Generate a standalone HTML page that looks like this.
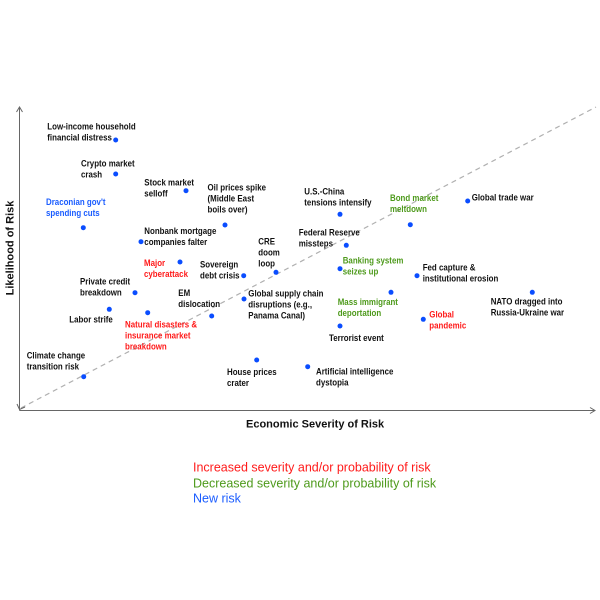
<!DOCTYPE html>
<html><head><meta charset="utf-8"><style>
html,body{margin:0;padding:0;background:#fff;}
svg{display:block;}
.l{font-family:"Liberation Sans",Arial,sans-serif;font-weight:bold;font-size:9px;fill:#111;}
.r{fill:#ff1a1a;}
.g{fill:#4e9a1c;}
.b{fill:#1a5cff;}
.d{fill:#0a4dff;}
</style></head><body>
<svg width="600" height="600" viewBox="0 0 600 600" xmlns="http://www.w3.org/2000/svg">
<rect width="600" height="600" fill="#fff"/>
<!-- diagonal -->
<line x1="21" y1="408" x2="596" y2="107" stroke="#b0b0b0" stroke-width="1.2" stroke-dasharray="5,4"/>
<!-- axes -->
<line x1="19.5" y1="107" x2="19.5" y2="410.5" stroke="#666" stroke-width="1"/>
<line x1="19.5" y1="410.5" x2="595" y2="410.5" stroke="#666" stroke-width="1"/>
<polyline points="16.5,112 19.5,107 22.5,112" fill="none" stroke="#666" stroke-width="1"/>
<polyline points="590,407.5 595,410.5 590,413.5" fill="none" stroke="#666" stroke-width="1"/>
<polyline points="17,404 19.5,409.5 25,407" fill="none" stroke="#666" stroke-width="1"/>
<!-- axis labels -->
<text x="246" y="427.3" font-family="Liberation Sans, Arial, sans-serif" font-weight="bold" font-size="11" fill="#111">Economic Severity of Risk</text>
<text transform="translate(13.5,248) rotate(-90)" text-anchor="middle" font-family="Liberation Sans, Arial, sans-serif" font-weight="bold" font-size="11" fill="#111">Likelihood of Risk</text>
<!-- dots -->
<g class="d">
<circle cx="115.7" cy="140" r="2.5"/>
<circle cx="115.7" cy="174" r="2.5"/>
<circle cx="186" cy="190.7" r="2.5"/>
<circle cx="225" cy="225" r="2.5"/>
<circle cx="83.3" cy="227.7" r="2.5"/>
<circle cx="141" cy="241.7" r="2.5"/>
<circle cx="340" cy="214.3" r="2.5"/>
<circle cx="410.3" cy="224.7" r="2.5"/>
<circle cx="467.7" cy="201" r="2.5"/>
<circle cx="346.3" cy="245.3" r="2.5"/>
<circle cx="276" cy="272.3" r="2.5"/>
<circle cx="243.7" cy="275.7" r="2.5"/>
<circle cx="340" cy="268.7" r="2.5"/>
<circle cx="417" cy="275.7" r="2.5"/>
<circle cx="180" cy="262" r="2.5"/>
<circle cx="135" cy="292.7" r="2.5"/>
<circle cx="211.7" cy="316" r="2.5"/>
<circle cx="244" cy="299" r="2.5"/>
<circle cx="109.3" cy="309.3" r="2.5"/>
<circle cx="147.7" cy="312.7" r="2.5"/>
<circle cx="83.7" cy="376.7" r="2.5"/>
<circle cx="256.7" cy="360" r="2.5"/>
<circle cx="391" cy="292.3" r="2.5"/>
<circle cx="423.3" cy="319.3" r="2.5"/>
<circle cx="532.3" cy="292.3" r="2.5"/>
<circle cx="340" cy="326" r="2.5"/>
<circle cx="307.7" cy="366.7" r="2.5"/>
</g>
<!-- labels -->
<text class="l" transform="translate(47.3,129.3) scale(.88 1)"><tspan x="0" y="0">Low-income household</tspan><tspan x="0" y="11">financial distress</tspan></text>
<text class="l" transform="translate(81,166.3) scale(.88 1)"><tspan x="0" y="0">Crypto market</tspan><tspan x="0" y="11">crash</tspan></text>
<text class="l" transform="translate(144.3,185.3) scale(.88 1)"><tspan x="0" y="0">Stock market</tspan><tspan x="0" y="11">selloff</tspan></text>
<text class="l" transform="translate(207.5,190.5) scale(.88 1)"><tspan x="0" y="0">Oil prices spike</tspan><tspan x="0" y="11">(Middle East</tspan><tspan x="0" y="22">boils over)</tspan></text>
<text class="l b" transform="translate(46,205) scale(.88 1)"><tspan x="0" y="0">Draconian gov't</tspan><tspan x="0" y="11">spending cuts</tspan></text>
<text class="l" transform="translate(304.3,194.3) scale(.88 1)"><tspan x="0" y="0">U.S.-China</tspan><tspan x="0" y="11">tensions intensify</tspan></text>
<text class="l g" transform="translate(390,201) scale(.88 1)"><tspan x="0" y="0">Bond market</tspan><tspan x="0" y="11">meltdown</tspan></text>
<text class="l" transform="translate(471.7,200.5) scale(.88 1)"><tspan x="0" y="0">Global trade war</tspan></text>
<text class="l" transform="translate(144.3,234) scale(.88 1)"><tspan x="0" y="0">Nonbank mortgage</tspan><tspan x="0" y="11">companies falter</tspan></text>
<text class="l" transform="translate(298.7,235.3) scale(.88 1)"><tspan x="0" y="0">Federal Reserve</tspan><tspan x="0" y="11">missteps</tspan></text>
<text class="l" transform="translate(258.3,244.7) scale(.88 1)"><tspan x="0" y="0">CRE</tspan><tspan x="0" y="11">doom</tspan><tspan x="0" y="22">loop</tspan></text>
<text class="l g" transform="translate(342.7,263.3) scale(.88 1)"><tspan x="0" y="0">Banking system</tspan><tspan x="0" y="11">seizes up</tspan></text>
<text class="l r" transform="translate(144,266) scale(.88 1)"><tspan x="0" y="0">Major</tspan><tspan x="0" y="11">cyberattack</tspan></text>
<text class="l" transform="translate(200,267.3) scale(.88 1)"><tspan x="0" y="0">Sovereign</tspan><tspan x="0" y="11">debt crisis</tspan></text>
<text class="l" transform="translate(422.7,270.6) scale(.88 1)"><tspan x="0" y="0">Fed capture &amp;</tspan><tspan x="0" y="11">institutional erosion</tspan></text>
<text class="l" transform="translate(80,284.3) scale(.88 1)"><tspan x="0" y="0">Private credit</tspan><tspan x="0" y="11">breakdown</tspan></text>
<text class="l" transform="translate(178.3,296) scale(.88 1)"><tspan x="0" y="0">EM</tspan><tspan x="0" y="11">dislocation</tspan></text>
<text class="l" transform="translate(248.3,296.6) scale(.88 1)"><tspan x="0" y="0">Global supply chain</tspan><tspan x="0" y="11">disruptions (e.g.,</tspan><tspan x="0" y="22">Panama Canal)</tspan></text>
<text class="l g" transform="translate(337.7,305) scale(.88 1)"><tspan x="0" y="0">Mass immigrant</tspan><tspan x="0" y="11">deportation</tspan></text>
<text class="l" transform="translate(490.7,304.6) scale(.88 1)"><tspan x="0" y="0">NATO dragged into</tspan><tspan x="0" y="11">Russia-Ukraine war</tspan></text>
<text class="l r" transform="translate(429.3,317.3) scale(.88 1)"><tspan x="0" y="0">Global</tspan><tspan x="0" y="11">pandemic</tspan></text>
<text class="l" transform="translate(69.3,322.3) scale(.88 1)"><tspan x="0" y="0">Labor strife</tspan></text>
<text class="l r" transform="translate(125,327.3) scale(.88 1)"><tspan x="0" y="0">Natural disasters &amp;</tspan><tspan x="0" y="11">insurance market</tspan><tspan x="0" y="22">breakdown</tspan></text>
<text class="l" transform="translate(329,341) scale(.88 1)"><tspan x="0" y="0">Terrorist event</tspan></text>
<text class="l" transform="translate(26.7,358.3) scale(.88 1)"><tspan x="0" y="0">Climate change</tspan><tspan x="0" y="11">transition risk</tspan></text>
<text class="l" transform="translate(227,375) scale(.88 1)"><tspan x="0" y="0">House prices</tspan><tspan x="0" y="11">crater</tspan></text>
<text class="l" transform="translate(316,374.3) scale(.88 1)"><tspan x="0" y="0">Artificial intelligence</tspan><tspan x="0" y="11">dystopia</tspan></text>
<!-- legend -->
<g font-family="Liberation Sans, Arial, sans-serif" font-size="12.5">
<text x="193" y="471.5" fill="#ff1a1a">Increased severity and/or probability of risk</text>
<text x="193" y="487.3" fill="#4e9a1c">Decreased severity and/or probability of risk</text>
<text x="193" y="502.3" fill="#1a5cff">New risk</text>
</g>
</svg>
</body></html>
